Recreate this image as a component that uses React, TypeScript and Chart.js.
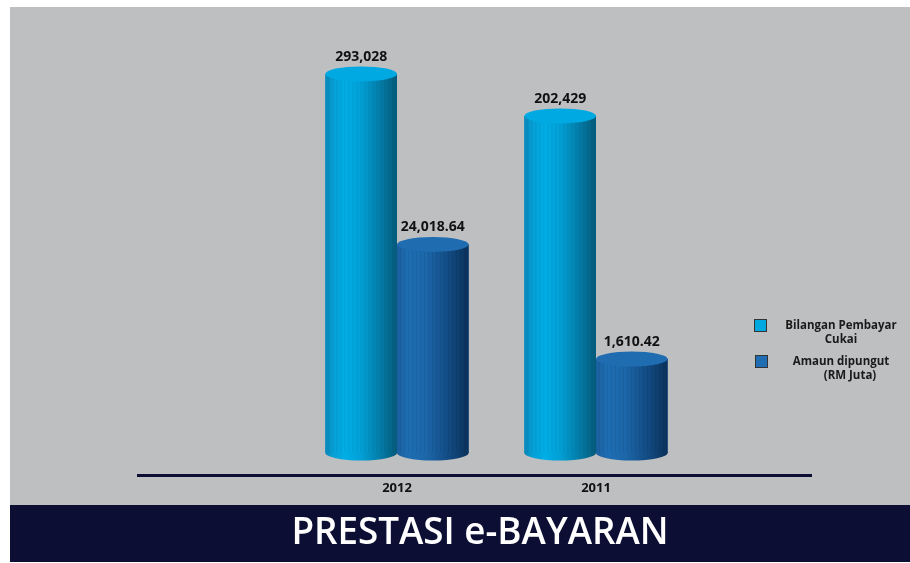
import React, { useEffect, useRef } from "react";
import { Chart, registerables } from "chart.js";

Chart.register(...registerables);

// ---- data ----
const categories = ["2012", "2011"];
const bilanganPembayarCukai = [293028, 202429];
const amaunDipungutRMJuta = [24018.64, 1610.42];
const seriesLabels = [
  ["Bilangan Pembayar", "Cukai"],
  ["Amaun dipungut", "(RM Juta)"],
];
const seriesDecimals = [0, 2];
const chartTitle = "PRESTASI e-BAYARAN";

// ---- styles ----
const FONT = '"Open Sans", "Noto Sans", sans-serif';
const NAVY = "#0c0f33";
const GREY = "#bebfc1";
const palettes = [
  {
    solid: "#00a8e0",
    top: "#00a9e2",
    stops: [
      [0, "#0a86b5"],
      [0.1, "#079ed4"],
      [0.28, "#00aee6"],
      [0.5, "#02a0d6"],
      [0.72, "#0383b0"],
      [0.88, "#056c92"],
      [1, "#045a7a"],
    ],
  },
  {
    solid: "#1f6db2",
    top: "#1f6cb1",
    stops: [
      [0, "#1a5f9e"],
      [0.15, "#1e6db2"],
      [0.4, "#1c67aa"],
      [0.7, "#134d86"],
      [0.88, "#0e3d6c"],
      [1, "#0a315a"],
    ],
  },
];

function fmt(v: number, d: number) {
  return v.toLocaleString("en-US", { minimumFractionDigits: d, maximumFractionDigits: d });
}

function drawCylinder(ctx: CanvasRenderingContext2D, left: number, w: number, top: number, base: number, pal: any) {
  const rx = w / 2;
  const cx = left + rx;
  const ry = 7.5;
  const g = ctx.createLinearGradient(left, 0, left + w, 0);
  pal.stops.forEach((s: any) => g.addColorStop(s[0], s[1]));
  ctx.save();
  ctx.fillStyle = g;
  ctx.beginPath();
  ctx.ellipse(cx, base, rx, ry, 0, 0, Math.PI * 2);
  ctx.fill();
  ctx.fillRect(left, top, w, base - top);
  ctx.globalAlpha = 0.06;
  ctx.fillStyle = "#000";
  for (let sx = left + 3; sx < left + w - 2; sx += 4) {
    ctx.fillRect(sx, top, 1, base - top);
  }
  ctx.globalAlpha = 1;
  ctx.fillStyle = pal.top;
  ctx.beginPath();
  ctx.ellipse(cx, top, rx, ry, 0, 0, Math.PI * 2);
  ctx.fill();
  ctx.restore();
}

const decorPlugin = {
  id: "decor",
  beforeDraw(chart: any) {
    const { ctx, width, height, chartArea } = chart;
    ctx.save();
    ctx.fillStyle = "#ffffff";
    ctx.fillRect(0, 0, width, height);
    ctx.fillStyle = GREY;
    ctx.fillRect(10, 7, width - 10, 498);
    ctx.fillStyle = NAVY;
    ctx.fillRect(10, 505, width - 10, 57);
    ctx.fillStyle = "#ffffff";
    ctx.font = `600 38px ${FONT}`;
    ctx.textAlign = "center";
    ctx.textBaseline = "middle";
    ctx.fillText(chartTitle, 480, 533, 377);
    ctx.fillStyle = NAVY;
    ctx.fillRect(137, chartArea.bottom + 21, 675, 3);
    ctx.restore();
  },
  afterDatasetsDraw(chart: any) {
    const { ctx, chartArea } = chart;
    ctx.save();
    chart.data.datasets.forEach((ds: any, di: number) => {
      const meta = chart.getDatasetMeta(di);
      meta.data.forEach((bar: any) => {
        const { x, y, base, width } = bar.getProps(["x", "y", "base", "width"], true);
        drawCylinder(ctx, x - width / 2, width, y, base, palettes[di]);
      });
    });
    ctx.fillStyle = "#111";
    ctx.font = `bold 14px ${FONT}`;
    ctx.textAlign = "center";
    ctx.textBaseline = "middle";
    chart.data.datasets.forEach((ds: any, di: number) => {
      const meta = chart.getDatasetMeta(di);
      meta.data.forEach((bar: any, i: number) => {
        const { x, y } = bar.getProps(["x", "y"], true);
        ctx.fillText(fmt(ds.data[i], seriesDecimals[di]), x, y - 17);
      });
    });
    const xs = chart.scales.x;
    ctx.font = `bold 13px ${FONT}`;
    categories.forEach((c, i) => {
      ctx.fillText(c, xs.getPixelForValue(i), chartArea.bottom + 35);
    });
    ctx.font = `bold 11.5px ${FONT}`;
    seriesLabels.forEach((lines, di) => {
      const sy = 319 + di * 36;
      const sx = 754 + di;
      ctx.fillStyle = palettes[di].solid;
      ctx.fillRect(sx, sy, 13, 13);
      ctx.strokeStyle = "#333";
      ctx.lineWidth = 1;
      ctx.strokeRect(sx + 0.5, sy + 0.5, 12, 12);
      ctx.fillStyle = "#1a1a1a";
      lines.forEach((ln, li) => {
        ctx.fillText(ln, 841 + (di === 1 && li === 1 ? 9 : 0), sy + 7 + li * 13.5);
      });
    });
    ctx.restore();
  },
};

export default function App() {
  const ref = useRef<HTMLCanvasElement | null>(null);
  useEffect(() => {
    if (!ref.current) return;
    const chart = new Chart(ref.current, {
      type: "bar",
      data: {
        labels: categories,
        datasets: [
          {
            label: seriesLabels[0].join(" "),
            data: bilanganPembayarCukai,
            yAxisID: "y1",
            backgroundColor: palettes[0].solid,
            borderWidth: 0,
          },
          {
            label: seriesLabels[1].join(" "),
            data: amaunDipungutRMJuta,
            yAxisID: "y2",
            backgroundColor: palettes[1].solid,
            borderWidth: 0,
          },
        ],
      },
      options: {
        responsive: false,
        animation: false,
        devicePixelRatio: 1,
        layout: { padding: { left: 297.5, right: 214.5, top: 40, bottom: 110 } },
        datasets: { bar: { categoryPercentage: 0.72, barPercentage: 1 } },
        scales: {
          x: { type: "category", display: false, offset: true },
          y1: { type: "logarithmic", display: false, min: 10400, max: 395000 },
          y2: { type: "logarithmic", display: false, min: 175, max: 2990000 },
        },
        plugins: { legend: { display: false }, tooltip: { enabled: false }, title: { display: false } },
      },
      plugins: [decorPlugin],
    });
    return () => chart.destroy();
  }, []);
  return (
    <div style={{ position: "absolute", left: 0, top: 0, width: 910, height: 563 }}>
      <canvas ref={ref} width={910} height={563} />
    </div>
  );
}
